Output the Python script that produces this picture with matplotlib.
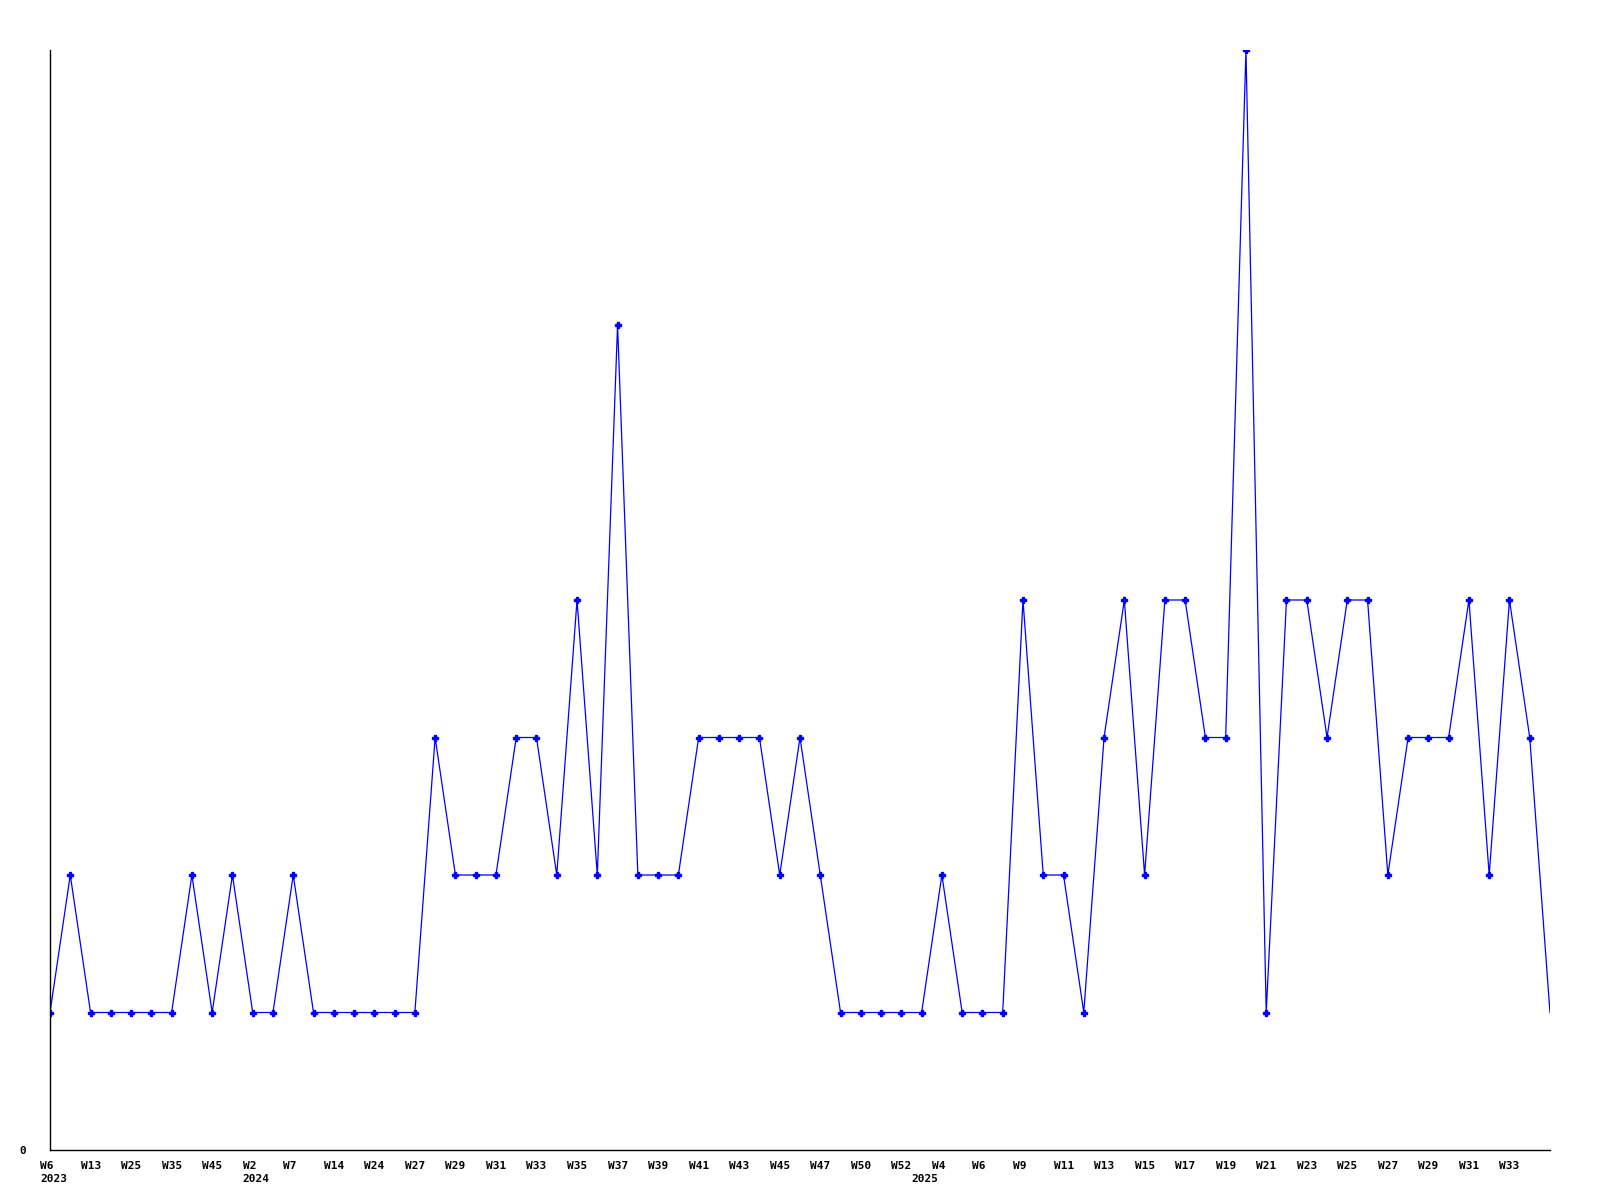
import numpy as np
import matplotlib.pyplot as plt
import matplotlib.transforms as mtransforms

# Weekly counts, one per point (75 points)
values = [1, 2, 1, 1, 1, 1, 1, 2, 1, 2,
          1, 1, 2, 1, 1, 1, 1, 1, 1, 3,
          2, 2, 2, 3, 3, 2, 4, 2, 6, 2,
          2, 2, 3, 3, 3, 3, 2, 3, 2, 1,
          1, 1, 1, 1, 2, 1, 1, 1, 4, 2,
          2, 1, 3, 4, 2, 4, 4, 3, 3, 8,
          1, 4, 4, 3, 4, 4, 2, 3, 3, 3,
          4, 2, 4, 3, 1]

# Labels shown on every second point
week_labels = ['W6', 'W13', 'W25', 'W35', 'W45', 'W2', 'W7', 'W14', 'W24', 'W27',
               'W29', 'W31', 'W33', 'W35', 'W37', 'W39', 'W41', 'W43', 'W45', 'W47',
               'W50', 'W52', 'W4', 'W6', 'W9', 'W11', 'W13', 'W15', 'W17', 'W19',
               'W21', 'W23', 'W25', 'W27', 'W29', 'W31', 'W33']
year_pos = [0, 10, 43]
year_labels = ['2023', '2024', '2025']

x = np.arange(len(values))

fig = plt.figure(figsize=(16, 12), dpi=100)
ax = fig.add_axes([50 / 1600, 50 / 1200, 1500 / 1600, 1100 / 1200])

ax.plot(x, values, color='#0000ff', lw=0.9, marker='P', ms=3.8,
        markevery=list(range(len(values) - 1)), mec='#0000ff', mfc='#0000ff')

ax.set_xlim(0, len(values) - 1)
ax.set_ylim(0, 8)
for s in ['top', 'right']:
    ax.spines[s].set_visible(False)
for s in ['left', 'bottom']:
    ax.spines[s].set_linewidth(1.0)
    ax.spines[s].set_color('black')

font = dict(family='DejaVu Sans Mono', weight='bold', size=8)
ax.set_xticks(x[:len(week_labels) * 2:2])
ax.set_xticklabels(week_labels, ha='left', **font)
ax.set_yticks([0])
ax.set_yticklabels(['0'], **font)
ax.tick_params(axis='x', length=0, pad=8)
ax.tick_params(axis='y', length=0, pad=17)

offset = mtransforms.ScaledTranslation(-10 / 100, 0, fig.dpi_scale_trans)
for lab in ax.get_xticklabels():
    lab.set_transform(lab.get_transform() + offset)

# year row under the week labels
ytrans = mtransforms.blended_transform_factory(ax.transData, ax.transAxes)
for pos, yr in zip(year_pos, year_labels):
    ax.text(pos, -29 / 1100, yr, transform=ytrans + offset, ha='left', va='center', **font)

fig.savefig('out.png', dpi=100)
